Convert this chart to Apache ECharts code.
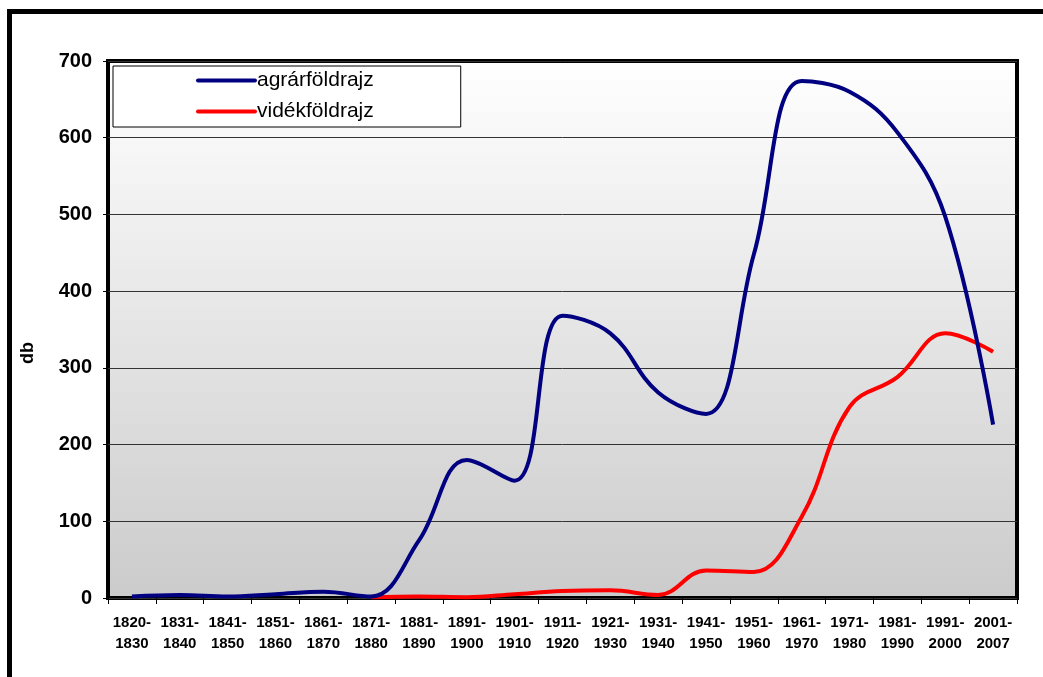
<!DOCTYPE html>
<html>
<head>
<meta charset="utf-8">
<script src="https://cdn.jsdelivr.net/npm/echarts@6/dist/echarts.min.js"></script>
<style>
html,body{margin:0;padding:0;background:#fff;}
#c{width:1043px;height:677px;}
</style>
</head>
<body>
<div id="c"></div>
<script>
const categories = ['1820-\n1830','1831-\n1840','1841-\n1850','1851-\n1860','1861-\n1870','1871-\n1880','1881-\n1890','1891-\n1900','1901-\n1910','1911-\n1920','1921-\n1930','1931-\n1940','1941-\n1950','1951-\n1960','1961-\n1970','1971-\n1980','1981-\n1990','1991-\n2000','2001-\n2007'];
const agrar = [2, 4, 2, 5, 8, 2, 75, 180, 153, 368, 345, 268, 240, 448, 674, 660, 607, 497, 226];
const videk = [null, null, null, null, null, 1, 2, 1, 5, 9, 10, 4, 36, 34, 106, 249, 288, 345, 321];
const yTicks = {min: 0, max: 700, interval: 100};
const yName = 'db';

const FONT = 'Arial, "Liberation Sans", sans-serif';
const chart = echarts.init(document.getElementById('c'), null, {renderer: 'canvas'});
chart.setOption({
  animation: false,
  backgroundColor: '#ffffff',
  graphic: [{
    type: 'rect',
    shape: {x: 9.5, y: 11.5, width: 1100, height: 700},
    style: {fill: 'none', stroke: '#000', lineWidth: 5},
    silent: true, z: 100
  }, {
    type: 'text',
    x: 28, y: 353, rotation: Math.PI / 2,
    style: {text: yName, font: 'bold 18px ' + FONT, fill: '#000', align: 'center', verticalAlign: 'middle'},
    silent: true
  }],
  grid: {
    left: 108, top: 61, width: 909, height: 537,
    show: true,
    borderWidth: 4, borderColor: '#000',
    backgroundColor: {type: 'linear', x: 0, y: 0, x2: 0, y2: 1,
      colorStops: [{offset: 0, color: '#ffffff'}, {offset: 1, color: '#cbcbcb'}]}
  },
  legend: {
    orient: 'vertical',
    left: 113, top: 66,
    backgroundColor: '#ffffff',
    borderColor: '#000', borderWidth: 1, borderRadius: 0,
    padding: [4, 87, 5, 83],
    itemWidth: 57, itemHeight: 14, itemGap: 10,
    textStyle: {fontFamily: FONT, fontSize: 21, lineHeight: 21, color: '#000', padding: [0, 0, 0, -3]},
    lineStyle: {width: 4, cap: 'round'},
    itemStyle: {color: 'rgba(0,0,0,0)', borderColor: 'rgba(0,0,0,0)', borderWidth: 0, opacity: 0},
    data: ['agrárföldrajz', 'vidékföldrajz']
  },
  xAxis: {
    type: 'category',
    data: categories,
    boundaryGap: true,
    axisLine: {show: false},
    axisTick: {show: true, alignWithLabel: false, length: 6, lineStyle: {color: '#000', width: 1}},
    axisLabel: {fontFamily: FONT, fontWeight: 'bold', fontSize: 15, color: '#000', lineHeight: 21, margin: 14, interval: 0},
    splitLine: {show: false}
  },
  yAxis: {
    type: 'value',
    min: yTicks.min, max: yTicks.max, interval: yTicks.interval,
    axisLine: {show: false},
    axisTick: {show: true, length: 5, lineStyle: {color: '#000'}},
    axisLabel: {fontFamily: FONT, fontWeight: 'bold', fontSize: 20, color: '#000', margin: 16},
    splitLine: {show: true, lineStyle: {color: '#333', width: 1}}
  },
  series: [
    {name: 'agrárföldrajz', type: 'line', data: agrar, smooth: 0.4, symbol: 'none',
     lineStyle: {color: '#000080', width: 4}, itemStyle: {color: '#000080'}, z: 3},
    {name: 'vidékföldrajz', type: 'line', data: videk, smooth: 0.4, symbol: 'none',
     lineStyle: {color: '#ff0000', width: 4}, itemStyle: {color: '#ff0000'}, z: 2}
  ]
});
</script>
</body>
</html>
